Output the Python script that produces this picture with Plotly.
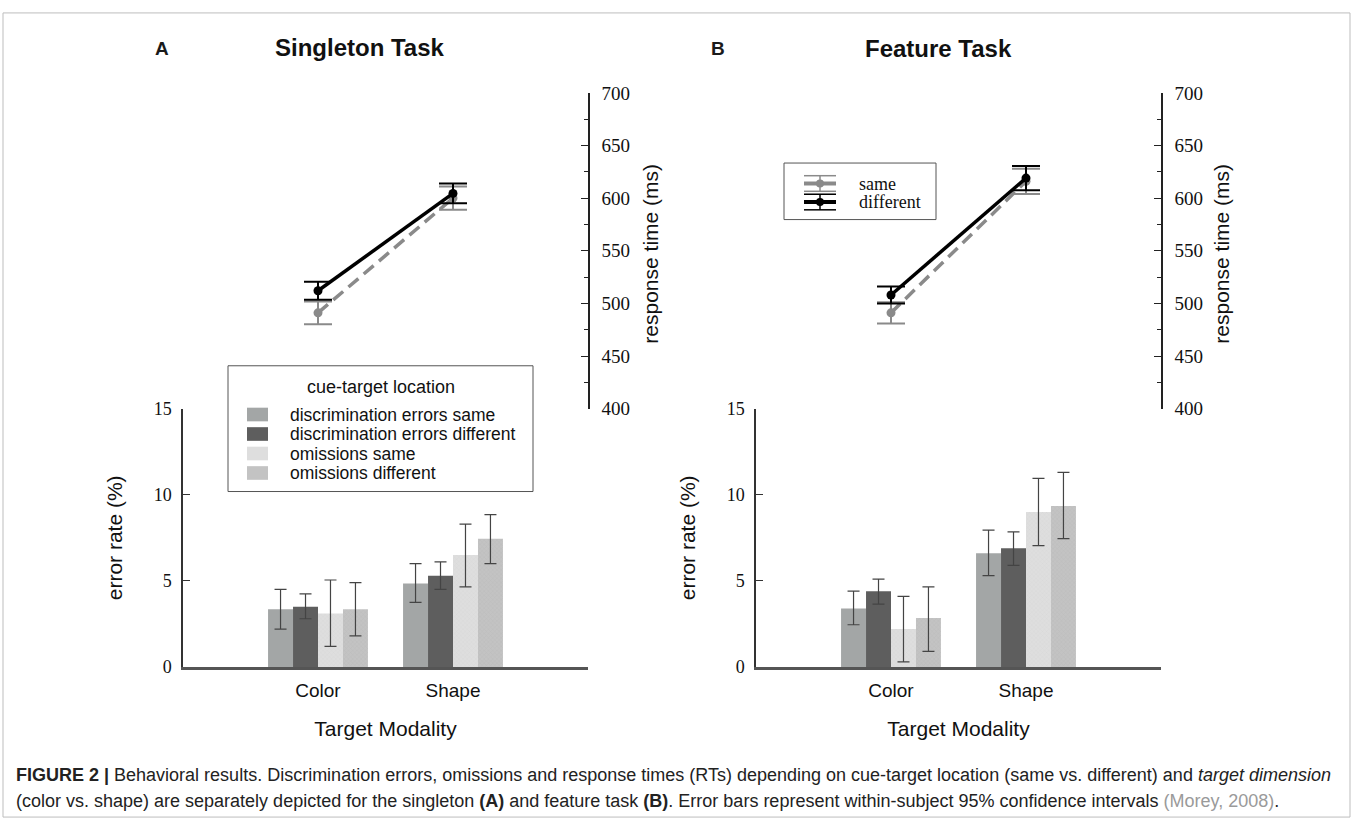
import plotly.graph_objects as go

W, H = 1354, 831

# ---------------- data ----------------
modalities = ["Color", "Shape"]

bar_series = ["discrimination errors same", "discrimination errors different",
              "omissions same", "omissions different"]

# Singleton task (A) error rates (%)
err_A = {
    "discrimination errors same":      [3.35, 4.85],
    "discrimination errors different": [3.5, 5.3],
    "omissions same":                  [3.1, 6.5],
    "omissions different":             [3.35, 7.45],
}
err_A_hi = {
    "discrimination errors same":      [4.5, 6.0],
    "discrimination errors different": [4.25, 6.1],
    "omissions same":                  [5.05, 8.3],
    "omissions different":             [4.9, 8.85],
}
err_A_lo = {
    "discrimination errors same":      [2.2, 3.75],
    "discrimination errors different": [2.8, 4.5],
    "omissions same":                  [1.2, 4.65],
    "omissions different":             [1.8, 6.0],
}

# Feature task (B) error rates (%)
err_B = {
    "discrimination errors same":      [3.4, 6.6],
    "discrimination errors different": [4.4, 6.9],
    "omissions same":                  [2.2, 9.0],
    "omissions different":             [2.85, 9.35],
}
err_B_hi = {
    "discrimination errors same":      [4.4, 7.95],
    "discrimination errors different": [5.1, 7.85],
    "omissions same":                  [4.1, 10.95],
    "omissions different":             [4.65, 11.3],
}
err_B_lo = {
    "discrimination errors same":      [2.45, 5.3],
    "discrimination errors different": [3.65, 5.9],
    "omissions same":                  [0.3, 7.05],
    "omissions different":             [0.9, 7.45],
}

# Response times (ms)
rt_series = ["same", "different"]
rt_A = {"same": [491, 600], "different": [512, 604.5]}
rt_A_ci = {"same": [10.7, 11], "different": [8.5, 9.3]}
rt_B = {"same": [491, 616], "different": [508, 619]}
rt_B_ci = {"same": [10.0, 12], "different": [8.0, 11.5]}

rt_ticks = [400, 450, 500, 550, 600, 650, 700]
rt_minor = [425, 475, 525, 575, 625, 675]
err_ticks = [0, 5, 10, 15]

legend_title = "cue-target location"

# ---------------- styles ----------------
bar_color = {
    "discrimination errors same": "#a3a6a6",
    "discrimination errors different": "#5e5e5e",
    "omissions same": "#dedede",
    "omissions different": "#c3c3c3",
}
bar_pattern = {
    "omissions same": dict(shape="x", size=3, solidity=0.25, fgcolor="#cfcfcf", fillmode="overlay"),
    "omissions different": dict(shape="x", size=3, solidity=0.25, fgcolor="#b2b2b2", fillmode="overlay"),
}
rt_style = {
    "same": dict(color="#8a8a8a", dash="13px,7px"),
    "different": dict(color="#000000", dash="solid"),
}

SANS = "Liberation Sans, Arial, Helvetica, sans-serif"
SERIF = "Liberation Serif, Times New Roman, serif"


def px_x(x):
    return x / W


def px_y(y):
    return 1 - y / H


fig = go.Figure()

# bars
for panel, (vals, hi, lo, xa, ya) in {
    "A": (err_A, err_A_hi, err_A_lo, "x", "y"),
    "B": (err_B, err_B_hi, err_B_lo, "x3", "y3"),
}.items():
    for s in bar_series:
        v = vals[s]
        mk = dict(color=bar_color[s], line=dict(width=0))
        if s in bar_pattern:
            mk["pattern"] = bar_pattern[s]
        fig.add_trace(go.Bar(
            x=modalities, y=v, name=s,
            xaxis=xa, yaxis=ya, marker=mk,
            error_y=dict(type="data", symmetric=False,
                         array=[h - m for h, m in zip(hi[s], v)],
                         arrayminus=[m - l for l, m in zip(lo[s], v)],
                         color="#444444", thickness=1.2, width=6),
            showlegend=False,
        ))

# response time lines
for panel, (vals, ci, xa, ya) in {
    "A": (rt_A, rt_A_ci, "x2", "y2"),
    "B": (rt_B, rt_B_ci, "x4", "y4"),
}.items():
    for s in rt_series:
        st = rt_style[s]
        fig.add_trace(go.Scatter(
            x=modalities, y=vals[s], name=s, mode="lines+markers",
            xaxis=xa, yaxis=ya,
            line=dict(color=st["color"], width=3.5, dash=st["dash"]),
            marker=dict(color=st["color"], size=9),
            error_y=dict(type="data", array=ci[s], color=st["color"],
                         thickness=2, width=14),
            showlegend=False,
        ))

x_dom_A = [px_x(183), px_x(588)]
x_dom_B = [px_x(756), px_x(1161)]
bar_ydom = [px_y(674), px_y(409)]
rt_ydom = [px_y(409), px_y(85)]


def bar_x(dom, anchor):
    return dict(domain=dom, anchor=anchor, type="category", categoryarray=modalities,
                range=[-1, 2], showline=True, linecolor="#555555", linewidth=2.5,
                ticks="", showgrid=False, zeroline=False,
                tickfont=dict(family=SANS, size=19, color="#111"),
                ticklabelstandoff=4,
                title=dict(text="Target Modality", font=dict(family=SANS, size=21, color="#111"),
                           standoff=22))


def bar_y(anchor):
    return dict(domain=bar_ydom, anchor=anchor, range=[0, 15], tickvals=err_ticks,
                showline=True, linecolor="#333333", linewidth=1.5, ticks="inside",
                ticklen=7, tickcolor="#333333", showgrid=False, zeroline=False,
                ticklabelstandoff=6,
                tickfont=dict(family=SERIF, size=18, color="#111"),
                title=dict(text="error rate (%)", font=dict(family=SANS, size=21, color="#111"),
                           standoff=25))


def line_x(dom, anchor):
    return dict(domain=dom, anchor=anchor, type="category", categoryarray=modalities,
                range=[-1, 2], visible=False)


def line_y(anchor):
    return dict(domain=rt_ydom, anchor=anchor, side="right", range=[400, 700],
                tickvals=rt_ticks, showline=True, linecolor="#222222", linewidth=1.5,
                ticks="inside", ticklen=7, tickcolor="#222222",
                minor=dict(tickvals=rt_minor, ticks="inside", ticklen=4, tickcolor="#222222"),
                showgrid=False, zeroline=False, ticklabelstandoff=8,
                tickfont=dict(family=SERIF, size=19, color="#111"))


fig.update_layout(
    width=W, height=H, margin=dict(l=0, r=0, t=0, b=0),
    paper_bgcolor="white", plot_bgcolor="rgba(0,0,0,0)",
    barmode="group", bargap=0.26, bargroupgap=0,
    showlegend=False,
    xaxis=bar_x(x_dom_A, "y"), yaxis=bar_y("x"),
    xaxis2=line_x(x_dom_A, "y2"), yaxis2=line_y("x2"),
    xaxis3=bar_x(x_dom_B, "y3"), yaxis3=bar_y("x3"),
    xaxis4=line_x(x_dom_B, "y4"), yaxis4=line_y("x4"),
)

shapes = []
annos = []

# response-time axis titles
for xc in (651, 1222):
    annos.append(dict(text="response time (ms)", x=px_x(xc), y=px_y(250), textangle=-90,
                      xanchor="center", yanchor="middle",
                      font=dict(family=SANS, size=21, color="#111")))

# panel labels and titles
annos += [
    dict(text="<b>A</b>", x=px_x(162), y=px_y(40), xanchor="center", yanchor="middle",
         font=dict(family=SANS, size=19, color="#1a1a1a")),
    dict(text="<b>Singleton Task</b>", x=px_x(360), y=px_y(38), xanchor="center", yanchor="middle",
         font=dict(family=SANS, size=24, color="#111")),
    dict(text="<b>B</b>", x=px_x(718), y=px_y(40), xanchor="center", yanchor="middle",
         font=dict(family=SANS, size=19, color="#1a1a1a")),
    dict(text="<b>Feature Task</b>", x=px_x(938), y=px_y(40), xanchor="center", yanchor="middle",
         font=dict(family=SANS, size=24, color="#111")),
]

# bar legend (panel A)
shapes.append(dict(type="rect", x0=px_x(228), x1=px_x(533), y0=px_y(494), y1=px_y(365),
                   line=dict(color="#555555", width=1), fillcolor="white"))
annos.append(dict(text=legend_title, x=px_x(381), y=px_y(387), xanchor="center", yanchor="middle",
                  font=dict(family=SANS, size=18, color="#111")))
for i, s in enumerate(bar_series):
    yc = 415 + 20 * i
    shapes.append(dict(type="rect", x0=px_x(247), x1=px_x(268), y0=px_y(yc + 7), y1=px_y(yc - 7),
                       line=dict(width=0), fillcolor=bar_color[s]))
    annos.append(dict(text=s, x=px_x(288), y=px_y(yc), xanchor="left", yanchor="middle",
                      font=dict(family=SANS, size=17.5, color="#111")))

# line legend (panel B)
shapes.append(dict(type="rect", x0=px_x(784), x1=px_x(936), y0=px_y(215), y1=px_y(157),
                   line=dict(color="#555555", width=1), fillcolor="white"))
for i, s in enumerate(rt_series):
    yc = 178 + 19 * i
    col = rt_style[s]["color"]
    for dy in (-8, 8):
        shapes.append(dict(type="line", x0=px_x(804), x1=px_x(836), y0=px_y(yc + dy), y1=px_y(yc + dy),
                           line=dict(color=col, width=1.5)))
    shapes.append(dict(type="line", x0=px_x(820), x1=px_x(820), y0=px_y(yc + 8), y1=px_y(yc - 8),
                       line=dict(color=col, width=1.5)))
    shapes.append(dict(type="line", x0=px_x(804), x1=px_x(836), y0=px_y(yc), y1=px_y(yc),
                       line=dict(color=col, width=4)))
    shapes.append(dict(type="circle", x0=px_x(816), x1=px_x(824), y0=px_y(yc + 4), y1=px_y(yc - 4),
                       line=dict(width=0), fillcolor=col))
    annos.append(dict(text=s, x=px_x(857), y=px_y(yc), xanchor="left", yanchor="middle",
                      font=dict(family=SERIF, size=18, color="#111")))

# caption
cap1 = ("<b>FIGURE 2 |</b> Behavioral results. Discrimination errors, omissions and response times (RTs) "
        "depending on cue-target location (same vs. different) and <i>target dimension</i>")
cap2 = ("(color vs. shape) are separately depicted for the singleton <b>(A)</b> and feature task "
        "<b>(B)</b>. Error bars represent within-subject 95% confidence intervals "
        "<span style='color:#9a9a9a'>(Morey, 2008)</span>.")
for txt, yy in [(cap1, 785), (cap2, 811)]:
    annos.append(dict(text=txt, x=px_x(14), y=px_y(yy), xanchor="left", yanchor="middle",
                      font=dict(family=SANS, size=18, color="#222")))

# outer frame
shapes.append(dict(type="rect", x0=px_x(3), x1=px_x(1350), y0=px_y(828), y1=px_y(3),
                   line=dict(color="#bdbdbd", width=1), fillcolor="rgba(0,0,0,0)", layer="below"))

for sh in shapes:
    fig.add_shape(xref="paper", yref="paper", **sh)
for a in annos:
    fig.add_annotation(xref="paper", yref="paper", showarrow=False, **a)

fig.write_html("out.html")
